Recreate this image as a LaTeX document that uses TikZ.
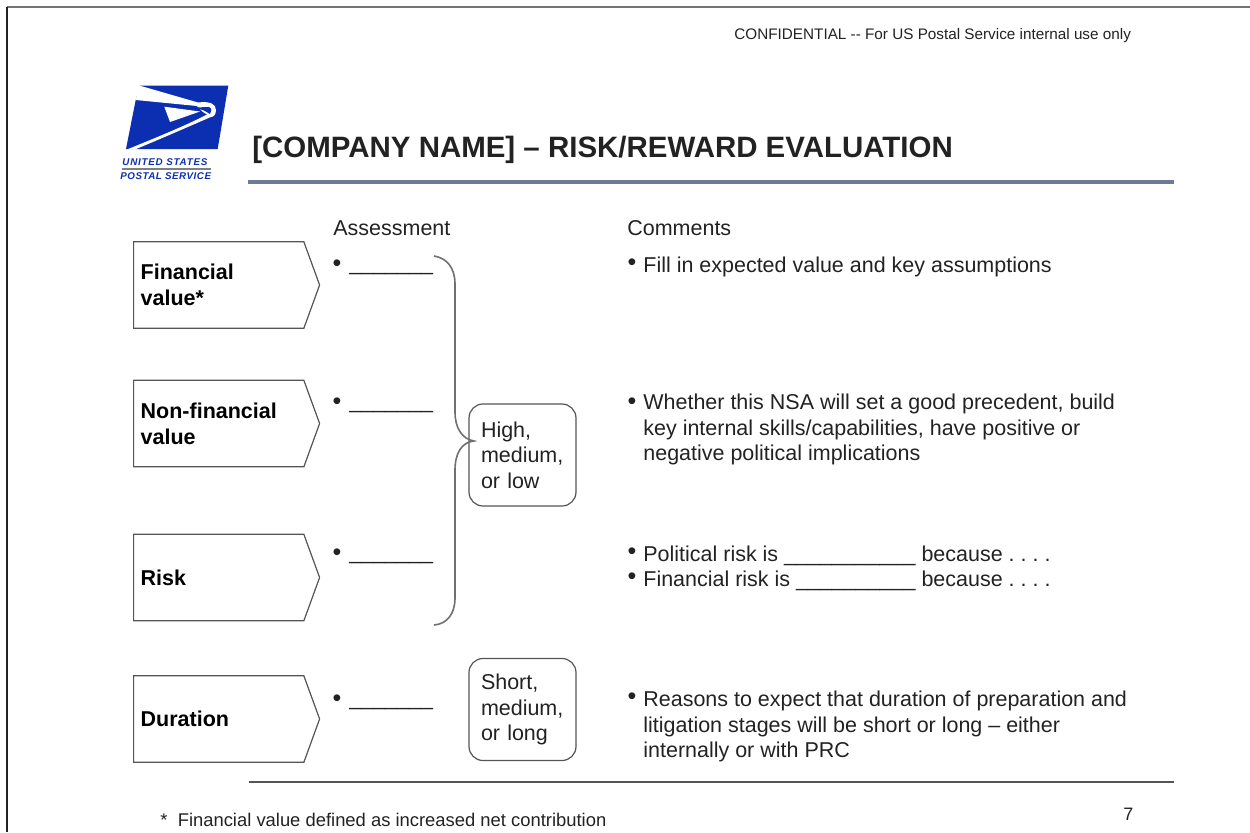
\documentclass[tikz,border=0pt]{standalone}
\usepackage{fontspec}
\setmainfont{Liberation Sans}
\usetikzlibrary{shapes.symbols}
\frenchspacing
\definecolor{uspsblue}{HTML}{0B2FB0}
\definecolor{rulegray}{HTML}{6F7A96}
\definecolor{linegray}{HTML}{555555}
\definecolor{bracegray}{HTML}{707070}
\definecolor{textgray}{HTML}{222222}
\tikzset{
    every node/.style={inner sep=0pt,text=textgray},
    bodytext/.style={font=\fontsize{10.74}{12.75}\selectfont,align=left,anchor=base west},
    bulletmark/.style={font=\fontsize{12.5}{12.75}\selectfont,anchor=base},
    stage/.style={draw=linegray,line width=0.6pt,shape=signal,signal to=east,signal pointer angle=140,
        minimum width=93pt,minimum height=43.3pt,text width=78pt,align=left,anchor=west,
        font=\fontsize{10.74}{13}\selectfont\bfseries,text=black},
    scale box/.style={draw=linegray,line width=0.6pt,rounded corners=7pt,minimum width=53.5pt,minimum height=51pt,
        text width=41.5pt,align=left,font=\fontsize{10.74}{12.75}\selectfont}
}

\begin{document}
\begin{tikzpicture}[x=0.5pt,y=-0.5pt]
    \useasboundingbox (0,0) rectangle (1250,832);
    \coordinate (framecorner) at (7,7);
    \coordinate (frameright)  at (1250,7);
    \coordinate (framebottom) at (7,832);
    \draw[line width=1pt,color=gray!90!black] (framecorner) -- (frameright);
    \draw[line width=1pt,color=textgray] (framecorner) -- (framebottom);

    \node[font=\fontsize{7.64}{9}\selectfont,anchor=base west] (confidential) at (734,39) {CONFIDENTIAL -{}- For US Postal Service internal use only};

    \fill[uspsblue] (140,85.7) -- (228.3,85.7) -- (217.7,149) -- (126,149) -- (135.7,100) -- cycle;
    \fill[white] (139,85.5) -- (140,85.7) -- (198,102.5) .. controls (210,101) and (216,104) .. (216,110)
        .. controls (216,115) and (213,117) .. (211,117) -- (203,112) -- (197,106) -- (135.7,100) -- cycle;
    \fill[uspsblue] (195,107.5) -- (209,107) .. controls (212,108) and (212,112) .. (210,114) -- (204,110.5) -- cycle;
    \fill[white] (164.3,106.7) -- (200,111.5) -- (170,122) -- cycle;
    \fill[white] (127,149.5) -- (135,149.5) .. controls (165,137) and (190,126) .. (212,116.5) -- (207,114.5) .. controls (185,126) and (155,138) .. (127,149.5) -- cycle;
    \node[font=\fontsize{4.9}{6}\selectfont\bfseries\itshape\addfontfeature{LetterSpace=8},text=uspsblue,anchor=base west] (logotop) at (122,165.5) {UNITED STATES};
    \node[font=\fontsize{4.9}{6}\selectfont\bfseries\itshape\addfontfeature{LetterSpace=5},text=uspsblue,anchor=base west] (logobottom) at (120,179) {POSTAL SERVICE};
    \coordinate (logoruleleft)  at (122,169);
    \coordinate (logoruleright) at (211,169);
    \draw[line width=0.9pt,color=gray] (logoruleleft) -- (logoruleright);

    \node[font=\fontsize{14.73}{18}\selectfont\bfseries,anchor=base west,text=textgray] (title) at (252,157) {[COMPANY NAME] -- RISK/REWARD EVALUATION};
    \coordinate (headleft)  at (248,182);
    \coordinate (headright) at (1174,182);
    \draw[line width=2pt,color=rulegray] (headleft) -- (headright);

    \node[bodytext] (assessment) at (333,235) {Assessment};
    \node[bodytext] (comments)   at (627,235) {Comments};

    \node[stage] (financial)    at (133,285) {Financial\\value*};
    \node[stage] (nonfinancial) at (133,423.5) {Non-financial\\value};
    \node[stage] (risk)         at (133,577.5) {Risk};
    \node[stage] (duration)     at (133,719) {Duration};

    \node[bulletmark] (bulletfin) at (337,271) {•};
    \node[bodytext] (blankfin)  at (349,270) {\_\_\_\_\_\_\_};
    \node[bulletmark] (bulletnon) at (337,409) {•};
    \node[bodytext] (blanknon)  at (349,408) {\_\_\_\_\_\_\_};
    \node[bulletmark] (bulletrisk) at (337,560) {•};
    \node[bodytext] (blankrisk)  at (349,559) {\_\_\_\_\_\_\_};
    \node[bulletmark] (bulletdur) at (337,706) {•};
    \node[bodytext] (blankdur)  at (349,705) {\_\_\_\_\_\_\_};

    \node[scale box] (highbox)  at (522.5,455) {High,\\medium,\\or low};
    \node[scale box] (shortbox) at (522.5,709.5) {Short,\\medium,\\or long};

    \coordinate (bracetop) at (434,256);
    \coordinate (bracebot) at (434,625);
    \coordinate (bracetip) at (474,441);
    \draw[line width=0.8pt,color=bracegray] (bracetop) .. controls (447,258) and (455,268) .. (455,284)
        -- (455,412) .. controls (455,428) and (462,439) .. (bracetip)
        .. controls (462,442) and (455,453) .. (455,470)
        -- (455,598) .. controls (455,614) and (447,624) .. (bracebot);

    \node[bulletmark] (bulletfill) at (632,270) {•};
    \node[bodytext] (fillin) at (643,272) {Fill in expected value and key assumptions};
    \node[bulletmark] (bulletnsa) at (632,409) {•};
    \node[bodytext,anchor=north west,yshift=-1pt] (nsa) at (643,392) {Whether this NSA will set a good precedent, build\\key internal skills/capabilities, have positive or\\negative political implications};
    \node[bulletmark] (bulletpol) at (632,559) {•};
    \node[bodytext] (political) at (643,561) {Political risk is \_\_\_\_\_\_\_\_\_\_\_ because . . . .};
    \node[bulletmark] (bulletrisk2) at (632,584) {•};
    \node[bodytext] (finrisk) at (643,586) {Financial risk is \_\_\_\_\_\_\_\_\_\_ because . . . .};
    \node[bulletmark] (bulletreason) at (632,704) {•};
    \node[bodytext,anchor=north west,yshift=-1pt] (reasons) at (643,689) {Reasons to expect that duration of preparation and\\litigation stages will be short or long -- either\\internally or with PRC};

    \coordinate (footleft)  at (249,782);
    \coordinate (footright) at (1174,782);
    \draw[line width=1.2pt,color=linegray] (footleft) -- (footright);

    \node[font=\fontsize{9.2}{11}\selectfont,anchor=base west] (footnote) at (160,826) {*\ \ Financial value defined as increased net contribution};
    \node[font=\fontsize{9}{11}\selectfont,anchor=base west] (pagenum) at (1123,820) {7};
\end{tikzpicture}
\end{document}
